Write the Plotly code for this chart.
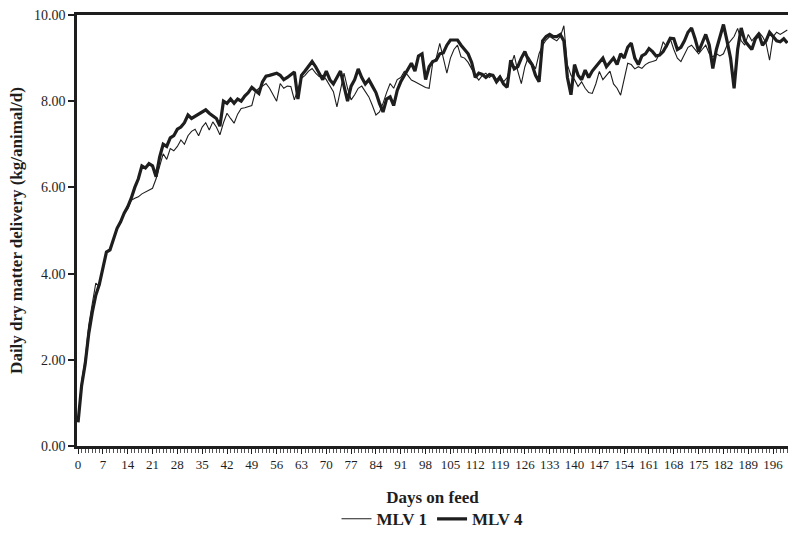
import plotly.graph_objects as go

days = list(range(0, 201))

mlv1 = [
    0.6, 1.5, 2.0, 2.8, 3.3, 3.78, 3.7, 4.15, 4.5, 4.55,
    4.8, 5.05, 5.2, 5.4, 5.5, 5.7, 5.75, 5.78, 5.85, 5.9,
    5.95, 5.98, 6.2, 6.5, 6.78, 6.65, 6.9, 6.85, 6.95, 7.1,
    7.0, 7.2, 7.3, 7.35, 7.2, 7.4, 7.5, 7.33, 7.52, 7.4,
    7.22, 7.5, 7.72, 7.6, 7.49, 7.7, 7.83, 7.85, 7.87, 7.9,
    8.22, 8.3, 8.35, 8.41, 8.3, 8.15, 8.0, 8.41, 8.3, 8.35,
    8.34, 8.03, 8.3, 8.53, 8.6, 8.7, 8.76, 8.65, 8.57, 8.6,
    8.5, 8.35, 8.22, 7.87, 8.3, 8.65, 8.3, 8.03, 8.15, 8.3,
    8.35, 8.22, 8.1, 7.9, 7.68, 7.75, 7.95, 8.2, 8.41, 8.3,
    8.5, 8.55, 8.69, 8.6, 8.49, 8.45, 8.4, 8.35, 8.32, 8.3,
    8.88, 9.0, 9.34, 9.0, 8.65, 9.0, 9.2, 9.3, 9.03, 9.0,
    8.9, 8.75, 8.6, 8.49, 8.6, 8.65, 8.55, 8.62, 8.5, 8.6,
    8.45, 8.55, 8.8, 9.07, 8.7, 8.41, 8.8, 9.03, 8.9, 8.75,
    9.1, 9.3, 9.42, 9.5, 9.45, 9.4, 9.5, 9.75, 8.84, 8.6,
    8.5, 8.34, 8.45, 8.3, 8.2, 8.18, 8.4, 8.69, 8.5, 8.6,
    8.7, 8.4, 8.3, 8.14, 8.5, 8.88, 8.85, 8.75, 8.8, 8.76,
    8.85, 8.9, 8.92, 8.95, 9.1, 9.38, 9.25, 9.45, 9.2, 9.0,
    8.92, 9.1, 9.25, 9.3, 9.2, 9.1, 9.2, 9.3, 9.1, 9.03,
    9.1, 9.05, 9.1, 9.3, 9.4, 9.5, 9.69, 9.4, 9.3, 9.55,
    9.4, 9.5, 9.6, 9.5, 9.35, 8.95, 9.5, 9.6, 9.55, 9.6,
    9.65,
]

mlv4 = [
    0.55, 1.4, 1.9, 2.6, 3.1, 3.5, 3.75, 4.1, 4.5, 4.55,
    4.8, 5.05, 5.2, 5.4, 5.55, 5.75, 6.0, 6.2, 6.5, 6.45,
    6.55, 6.5, 6.25, 6.7, 7.0, 6.95, 7.15, 7.2, 7.35, 7.4,
    7.5, 7.68, 7.6, 7.65, 7.7, 7.75, 7.8, 7.72, 7.65, 7.6,
    7.42, 8.0, 7.95, 8.05, 7.95, 8.05, 8.0, 8.12, 8.2, 8.32,
    8.25, 8.18, 8.45, 8.58, 8.6, 8.62, 8.65, 8.6, 8.5, 8.55,
    8.62, 8.68, 8.05, 8.6, 8.7, 8.8, 8.92, 8.8, 8.65, 8.5,
    8.7, 8.5, 8.4, 8.55, 8.7, 8.35, 8.0, 8.35, 8.5, 8.75,
    8.55, 8.4, 8.5, 8.35, 8.2, 7.95, 7.75, 8.05, 8.1, 7.9,
    8.25, 8.45, 8.6, 8.75, 8.88, 8.7, 9.05, 9.1, 8.5, 8.8,
    8.92, 8.95, 9.1, 9.12, 9.3, 9.42, 9.42, 9.42, 9.3, 9.2,
    9.1, 8.9, 8.55, 8.65, 8.62, 8.55, 8.62, 8.6, 8.45, 8.55,
    8.4, 8.32, 8.95, 8.75, 8.8, 9.0, 9.15, 8.95, 8.85, 8.6,
    8.45, 9.4, 9.5, 9.55, 9.5, 9.5, 9.55, 9.4, 8.55, 8.15,
    8.85, 8.6, 8.5, 8.72, 8.55, 8.7, 8.8, 8.9, 9.0, 8.8,
    8.9, 9.0, 8.85, 9.1, 9.0, 9.25, 9.35, 9.0, 8.85, 9.05,
    9.1, 9.22, 9.15, 9.05, 9.07, 9.15, 9.3, 9.46, 9.45, 9.2,
    9.25, 9.4, 9.6, 9.7, 9.45, 9.15, 9.35, 9.55, 9.3, 8.76,
    9.2, 9.5, 9.78, 9.4, 9.0, 8.3, 9.2, 9.7, 9.4, 9.3,
    9.2, 9.45, 9.55, 9.3, 9.4, 9.6, 9.5, 9.4, 9.38, 9.45,
    9.35,
]

x_tick_vals = list(range(0, 197, 7))
y_tick_vals = [0, 2, 4, 6, 8, 10]

serif = "Liberation Serif, Times New Roman, serif"
ink = "#1e1e1e"

fig = go.Figure()
fig.add_trace(go.Scatter(x=days, y=mlv1, mode="lines", name="MLV 1",
                         line=dict(color=ink, width=1.1)))
fig.add_trace(go.Scatter(x=days, y=mlv4, mode="lines", name="MLV 4",
                         line=dict(color=ink, width=3.2)))

fig.update_layout(
    width=788, height=539,
    margin=dict(l=77, r=0, t=15, b=93),
    paper_bgcolor="white", plot_bgcolor="white",
    font=dict(family=serif, size=12, color=ink),
    showlegend=True,
    legend=dict(orientation="h", x=0.5, xanchor="center", y=-0.17, yanchor="middle",
                font=dict(family=serif, size=17, color=ink, weight="bold"),
                itemwidth=30, traceorder="normal"),
    xaxis=dict(
        automargin=False,
        range=[-0.3, 200.2], tickvals=x_tick_vals, ticktext=[str(v) for v in x_tick_vals],
        showgrid=False, zeroline=False, showline=True, linecolor=ink, linewidth=2.5,
        mirror=True, ticks="outside", ticklen=5, tickwidth=1, tickcolor=ink,
        minor=dict(dtick=1, tick0=0, ticks="outside", ticklen=4, tickwidth=1, tickcolor="#555"),
        tickfont=dict(family=serif, size=13, color=ink),
        title=dict(text="Days on feed", standoff=20,
                   font=dict(family=serif, size=17, color=ink, weight="bold")),
    ),
    yaxis=dict(
        automargin=False,
        range=[0, 10], tickvals=y_tick_vals, tickformat=".2f",
        showgrid=False, zeroline=False, showline=True, linecolor=ink, linewidth=2.5,
        ticks="outside", ticklen=6, tickwidth=1.5, tickcolor=ink,
        tickfont=dict(family=serif, size=14, color=ink),
        title=dict(text="Daily dry matter delivery (kg/animal/d)", standoff=8,
                   font=dict(family=serif, size=17, color=ink, weight="bold")),
    ),
)

fig.write_html("out.html", config={"displayModeBar": False},
               post_script="document.body.style.margin='0';document.body.style.overflow='hidden';")
